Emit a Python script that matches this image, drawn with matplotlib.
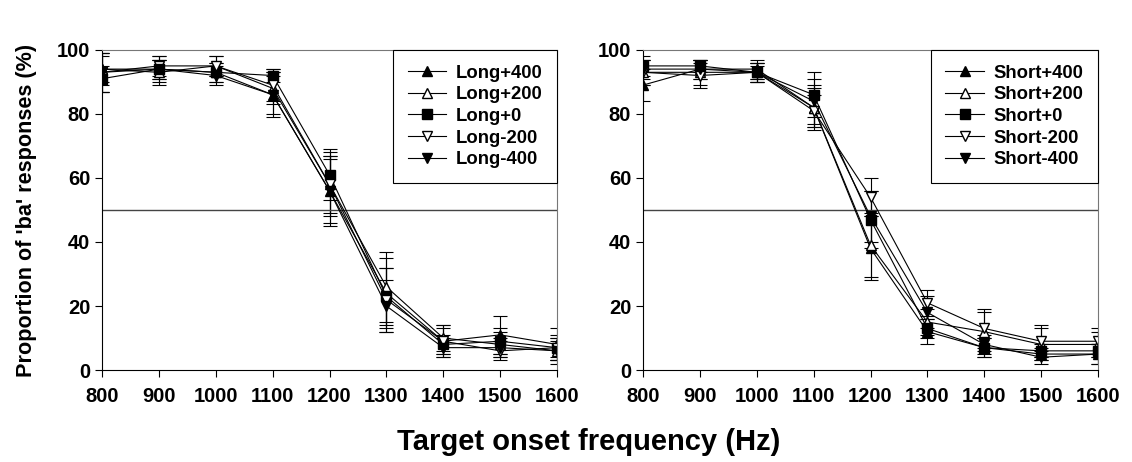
import numpy as np
import matplotlib.pyplot as plt

plt.rcParams['font.family'] = ['Liberation Sans', 'DejaVu Sans']
plt.rcParams['font.weight'] = 'bold'

freq = [800, 900, 1000, 1100, 1200, 1300, 1400, 1500, 1600]

long_labels = ['Long+400', 'Long+200', 'Long+0', 'Long-200', 'Long-400']
long_vals = [
    [94, 94, 93, 86, 56, 24, 9, 11, 8],
    [94, 93, 95, 88, 58, 26, 10, 8, 6],
    [91, 94, 93, 92, 61, 23, 8, 9, 7],
    [93, 95, 95, 89, 58, 22, 9, 6, 7],
    [93, 94, 92, 86, 56, 20, 7, 7, 6],
]
long_err = [
    [4, 3, 3, 6, 10, 11, 5, 6, 5],
    [5, 4, 3, 5, 9, 11, 4, 4, 4],
    [4, 3, 3, 2, 8, 9, 3, 4, 3],
    [6, 3, 3, 5, 10, 10, 4, 3, 4],
    [6, 4, 3, 7, 11, 8, 3, 3, 3],
]

short_labels = ['Short+400', 'Short+200', 'Short+0', 'Short-200', 'Short-400']
short_vals = [
    [89, 94, 94, 82, 38, 12, 7, 5, 5],
    [93, 93, 93, 82, 39, 15, 12, 8, 8],
    [95, 95, 93, 86, 47, 13, 7, 6, 6],
    [93, 92, 93, 81, 54, 21, 13, 9, 9],
    [94, 94, 93, 84, 48, 18, 8, 4, 5],
]
short_err = [
    [5, 3, 3, 7, 10, 4, 3, 2, 3],
    [4, 4, 3, 6, 10, 4, 6, 5, 4],
    [3, 2, 2, 7, 9, 3, 3, 2, 2],
    [4, 4, 3, 5, 6, 4, 6, 5, 4],
    [3, 3, 3, 7, 8, 5, 3, 2, 3],
]

markers = ['^', '^', 's', 'v', 'v']
faces = ['black', 'white', 'black', 'white', 'black']

fig = plt.figure(figsize=(11.32, 4.62), dpi=100)
ax1 = fig.add_axes([0.0901, 0.199, 0.402, 0.693])
ax2 = fig.add_axes([0.568, 0.199, 0.402, 0.693])


def draw(ax, labels, vals, errs):
    handles = []
    for lab, v, e, m, fc in zip(labels, vals, errs, markers, faces):
        c = ax.errorbar(freq, v, yerr=e, color='black', lw=0.8, marker=m,
                        mfc=fc, mec='black', ms=7.5, elinewidth=0.8,
                        capsize=5, capthick=0.8)
        handles.append(c[0])
    ax.axhline(50, color='#444444', lw=1)
    ax.set_xlim(800, 1600)
    ax.set_ylim(0, 100)
    ax.set_xticks(freq)
    ax.set_yticks([0, 20, 40, 60, 80, 100])
    ax.tick_params(labelsize=14.5, direction='out', length=5)
    ax.tick_params(axis='x', pad=7)
    for t in ax.get_xticklabels() + ax.get_yticklabels():
        t.set_fontweight('bold')
    ax.spines['top'].set_color('#777777')
    ax.spines['right'].set_color('#777777')
    leg = ax.legend(handles, labels, loc='upper right', borderaxespad=0,
                    fancybox=False, edgecolor='black', framealpha=1,
                    handlelength=2.1, handletextpad=0.5, labelspacing=0.25,
                    borderpad=0.8, prop={'weight': 'bold', 'size': 13.3})
    leg.get_frame().set_linewidth(0.8)


draw(ax1, long_labels, long_vals, long_err)
draw(ax2, short_labels, short_vals, short_err)

ax1.set_ylabel("Proportion of 'ba' responses (%)", fontsize=15.6,
               fontweight='bold', labelpad=14)
fig.text(0.52, 0.025, 'Target onset frequency (Hz)', ha='center',
         fontsize=21, fontweight='bold')

fig.savefig('out.png', dpi=100)
